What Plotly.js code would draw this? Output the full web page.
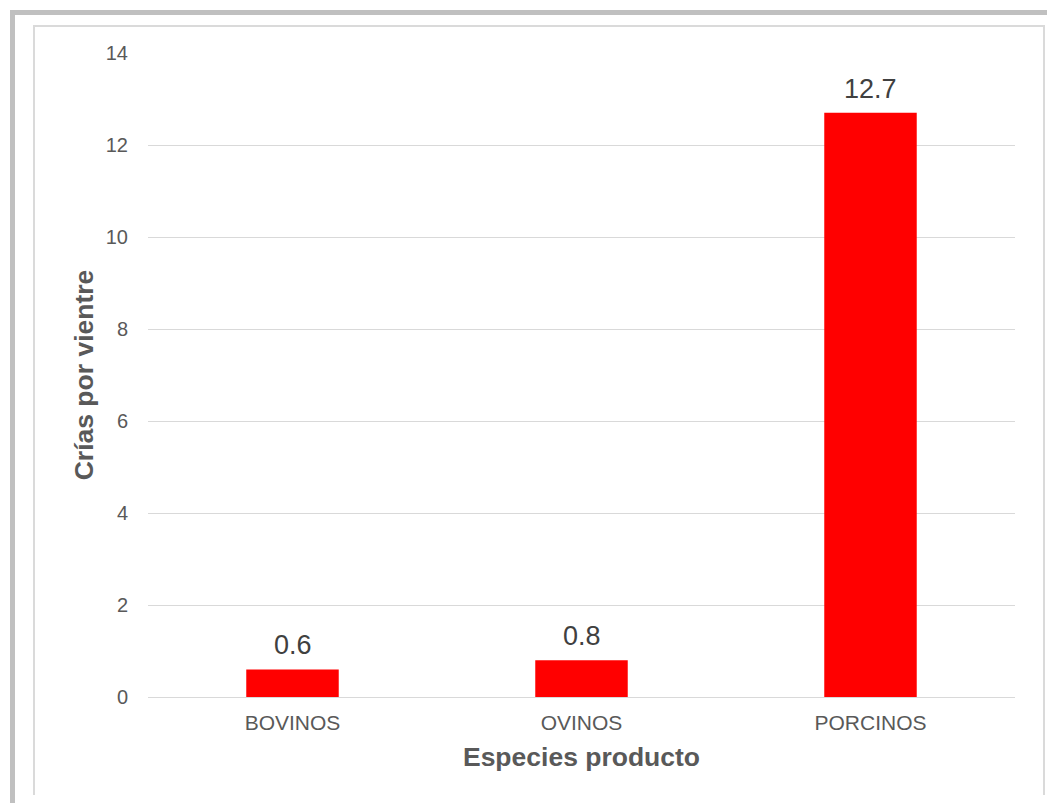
<!DOCTYPE html>
<html><head><meta charset="utf-8">
<script src="https://cdn.plot.ly/plotly-3.0.1.min.js"></script>
<style>
body{margin:0;background:#fff;width:1047px;height:803px;overflow:hidden;position:relative;}
#outer{position:absolute;left:10px;top:10px;width:1100px;height:900px;border-left:5px solid #c0c0c0;border-top:5px solid #c0c0c0;}
#inner{position:absolute;left:33px;top:25px;width:1008px;height:768px;border-left:2px solid #dadada;border-top:2px solid #dadada;border-right:2px solid #dadada;}
#chart{position:absolute;left:0;top:0;width:1047px;height:803px;}
</style></head>
<body>
<div id="outer"></div><div id="inner"></div>
<div id="chart"></div>
<script>
const categories = ["BOVINOS", "OVINOS", "PORCINOS"];
const values = [0.6, 0.8, 12.7];
const labels = ["0.6", "0.8", "12.7"];

const annotations = categories.map((c, i) => ({
  x: c, y: values[i], xref: 'x', yref: 'y', text: labels[i],
  showarrow: false, yanchor: 'bottom', yshift: 7,
  font: {family: 'Liberation Sans, Arial, sans-serif', size: 27, color: '#404040'}
}));

Plotly.newPlot('chart', [{
  type: 'bar', x: categories, y: values,
  marker: {color: '#ff0000'}, width: 0.32, hoverinfo: 'none'
}], {
  width: 1047, height: 803,
  margin: {l: 148, r: 32, t: 53, b: 106},
  paper_bgcolor: 'rgba(0,0,0,0)', plot_bgcolor: 'rgba(0,0,0,0)',
  showlegend: false,
  annotations: annotations,
  font: {family: 'Liberation Sans, Arial, sans-serif', color: '#595959'},
  xaxis: {
    showgrid: false, showline: true, linecolor: '#d9d9d9', linewidth: 1,
    ticks: 'outside', ticklen: 7, tickcolor: 'rgba(0,0,0,0)',
    tickfont: {size: 21, color: '#595959'},
    title: {text: '<b>Especies producto</b>', font: {size: 26.5, color: '#595959'}, standoff: 14}
  },
  yaxis: {
    range: [0, 14], dtick: 2, showgrid: true, gridcolor: '#d9d9d9', gridwidth: 1,
    zeroline: false, showline: false,
    ticks: 'outside', ticklen: 15, tickcolor: 'rgba(0,0,0,0)',
    tickfont: {size: 20, color: '#595959'},
    title: {text: '<b>Crías por vientre</b>', font: {size: 26.5, color: '#595959'}, standoff: 4}
  }
}, {staticPlot: true});
</script>
</body></html>
